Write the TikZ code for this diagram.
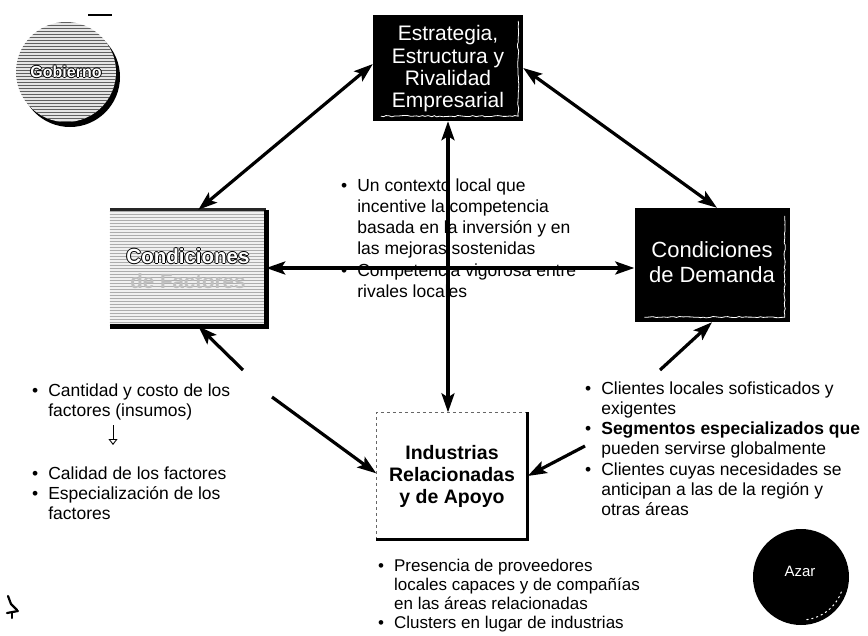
\documentclass[tikz,border=0pt]{standalone}
\usepackage{fontspec}
\setmainfont{Liberation Sans}
\usetikzlibrary{arrows.meta,patterns,decorations.pathmorphing}
\newcommand\olt[1]{{\def\olttxt{#1}\rlap{\color{black}\kern-1pt\olttxt}\rlap{\color{black}\kern1pt\olttxt}\rlap{\color{black}\raisebox{1pt}{\olttxt}}\rlap{\color{black}\raisebox{-1pt}{\olttxt}}\color{white}\olttxt}}
\begin{document}
\begin{tikzpicture}[x=1pt,y=-1pt,
  >={Stealth[length=19pt,width=13pt,inset=4pt]},
  arr/.style={line width=3.2pt},
  bl/.style={anchor=base west, inner sep=0pt},
  boxtxt/.style={align=center, inner sep=0pt},
  grain/.style={decorate, decoration={random steps, segment length=3pt, amplitude=0.7pt}},
  bodyfont/.style={font=\fontsize{17.5}{20.3}\selectfont},
]
\useasboundingbox (0,0) rectangle (868,635);

% ---------- Gobierno
\fill[black] (70,77) circle (50);
\node[circle, minimum size=100pt, inner sep=0pt, fill=gray!20] (gob) at (66,72) {};
\fill[pattern=horizontal lines, pattern color=gray!75!black] (gob.center) circle (50);
\node[font=\bfseries\fontsize{16}{18}\selectfont] (gobt) at (gob.center) {\olt{Gobierno}};
\draw[line width=1.2pt] (88,15) -- (112,15);

% ---------- Estrategia
\node[fill=black, minimum width=150pt, minimum height=106pt, inner sep=0pt] (est) at (448,68) {};
\draw[white, line width=0.8pt, grain] ([xshift=-5pt,yshift=-6pt]est.north east) -- ([xshift=-5pt,yshift=5pt]est.south east) -- ([xshift=8pt,yshift=5pt]est.south west);
\node[boxtxt, text=white, font=\fontsize{21}{22.3}\selectfont] (estt) at (448,69) {Estrategia,\\Estructura y\\Rivalidad\\Empresarial};

% ---------- Condiciones de Demanda
\node[fill=black, minimum width=155pt, minimum height=114pt, inner sep=0pt] (dem) at (712,265) {};
\draw[white, line width=0.8pt, grain] ([xshift=-5pt,yshift=-8pt]dem.north east) -- ([xshift=-5pt,yshift=5pt]dem.south east) -- ([xshift=10pt,yshift=5pt]dem.south west);
\node[boxtxt, text=white, font=\fontsize{22}{25}\selectfont] (demt) at (712,262) {Condiciones\\de Demanda};

% ---------- Condiciones de Factores
\node[minimum width=156pt, minimum height=116pt, inner sep=0pt, fill=gray!12] (fac) at (188,268) {};
\fill[pattern=horizontal lines, pattern color=gray!65] (fac.south west) rectangle (fac.north east);
\draw[line width=3pt, black!85] (fac.north west) -- (fac.north east);
\draw[line width=5pt] (fac.north east) -- (fac.south east) -- (fac.south west);
\node[boxtxt, font=\bfseries\fontsize{20.5}{25}\selectfont] (fact) at (188,268) {\olt{Condiciones}\\{\color{gray!50}de Factores}};

% ---------- Industrias
\node[minimum width=151pt, minimum height=127pt, inner sep=0pt] (ind) at (452,476) {};
\draw[dashed, line width=0.7pt, black!60] (ind.south west) -- (ind.north west) -- (ind.north east);
\draw[line width=3.5pt] (ind.north east) -- (ind.south east) -- (ind.south west);
\node[boxtxt, font=\bfseries\fontsize{19.5}{22}\selectfont] (indt) at (452,476) {Industrias\\Relacionadas\\y de Apoyo};

% ---------- Azar
\node[circle, fill=black, minimum size=96pt, inner sep=0pt] (azar) at (801,577) {};
\draw[white, line width=1pt, dash pattern=on 2pt off 3pt] (azar.center) ++(20:43) arc (20:85:43);
\node[text=white, font=\fontsize{15}{18}\selectfont] (azart) at (800,571) {Azar};

% ---------- small marks
\draw[line width=2.2pt, line cap=round, line join=round] (8,596) -- (11,604) -- (17,610);
\draw[line width=2.2pt, line cap=round] (7,613) -- (18,611);
\draw[line width=2pt, line cap=round] (12,612) -- (12,618);
\draw[line width=0.9pt, -{Triangle[open,length=6pt,width=9pt]}] (113,425) -- (113,445);

% ---------- text blocks
\node[bl, bodyfont] (lb1) at (32,396) {\begin{tabular}[t]{@{}l@{\hspace{10pt}}l@{}}\textbullet&Cantidad y costo de los\\&factores (insumos)\end{tabular}};
\node[bl, bodyfont] (lb2) at (32,479) {\begin{tabular}[t]{@{}l@{\hspace{10pt}}l@{}}\textbullet&Calidad de los factores\\\textbullet&Especialización de los\\&factores\end{tabular}};
\node[bl, font=\fontsize{17.5}{21.3}\selectfont] (cb) at (341,191) {\begin{tabular}[t]{@{}l@{\hspace{10pt}}l@{}}\textbullet&Un contexto local que\\&incentive la competencia\\&basada en la inversión y en\\&las mejoras sostenidas\\\textbullet&Competencia vigorosa entre\\&rivales locales\end{tabular}};
\node[bl, bodyfont] (rb) at (585,394) {\begin{tabular}[t]{@{}l@{\hspace{10pt}}l@{}}\textbullet&Clientes locales sofisticados y\\&exigentes\\\textbullet&\textbf{Segmentos especializados que}\\&pueden servirse globalmente\\\textbullet&Clientes cuyas necesidades se\\&anticipan a las de la región y\\&otras áreas\end{tabular}};
\node[bl, font=\fontsize{17}{19}\selectfont] (bb) at (378,571) {\begin{tabular}[t]{@{}l@{\hspace{10pt}}l@{}}\textbullet&Presencia de proveedores\\&locales capaces y de compañías\\&en las áreas relacionadas\\\textbullet&Clusters en lugar de industrias\end{tabular}};

% ---------- connectors
\draw[arr,<->] (est.177) -- (fac.80);
\draw[arr,<->] (est.east) -- (dem.85);
\draw[arr,<->] (est.south) -- (est.south |- ind.north);
\draw[arr,<->] (fac.east) -- (fac.east -| dem.west);
\coordinate (t1) at (243,370);
\coordinate (t2) at (272,397);
\coordinate (t3) at (660,370);
\coordinate (t4) at (585,446);
\draw[arr,->] (t1) -- (fac.-80);
\draw[arr,->] (t2) -- (ind.178);
\draw[arr,->] (t3) -- (dem.south);
\draw[arr,->] (t4) -- (ind.east);
\end{tikzpicture}
\end{document}
